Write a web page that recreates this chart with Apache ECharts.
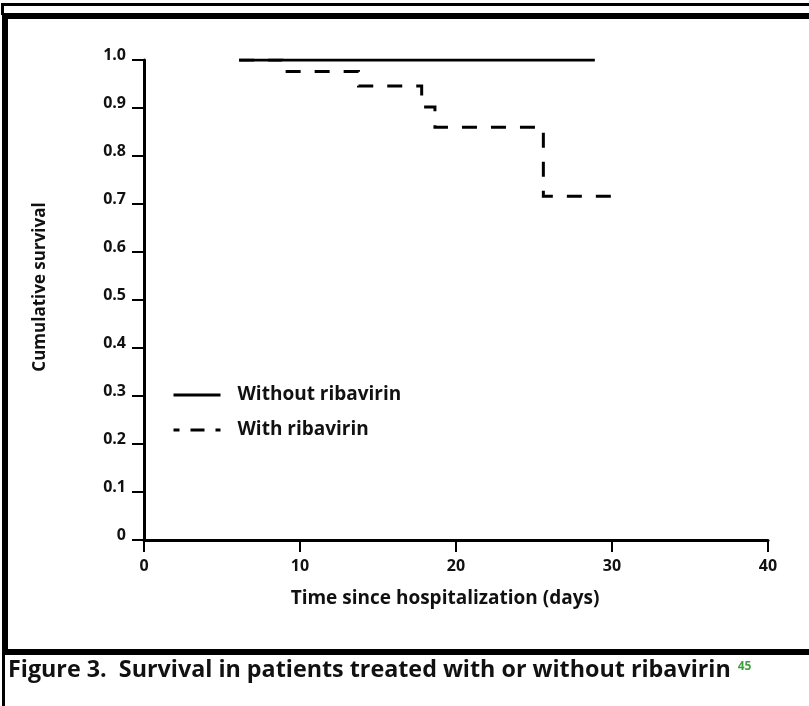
<!DOCTYPE html>
<html>
<head>
<meta charset="utf-8">
<script src="https://cdn.jsdelivr.net/npm/echarts@6/dist/echarts.min.js"></script>
<style>
html,body{margin:0;padding:0;background:#fff;}
#chart{width:809px;height:706px;}
</style>
</head>
<body>
<div id="chart"></div>
<script>
// ---- data ----
const seriesNames = ['Without ribavirin', 'With ribavirin'];
const withoutDays = [6.1, 28.9];
const withoutSurvival = [1.0, 1.0];
const withDays = [6.1, 8.85, 13.75, 17.8, 18.65, 25.6, 30.6];
const withSurvival = [1.0, 0.976, 0.946, 0.902, 0.86, 0.716, 0.716];
const xTicks = [0, 10, 20, 30, 40];
const yTickLabels = ['0', '0.1', '0.2', '0.3', '0.4', '0.5', '0.6', '0.7', '0.8', '0.9', '1.0'];
const xTitle = 'Time since hospitalization (days)';
const yTitle = 'Cumulative survival';
const caption = 'Figure 3.  Survival in patients treated with or without ribavirin';
const captionRef = '45';

const FONT = '"Open Sans", "DejaVu Sans", sans-serif';
const pair = (xs, ys) => xs.map((x, i) => [x, ys[i]]);

const chart = echarts.init(document.getElementById('chart'), null, {renderer: 'canvas'});
chart.setOption({
  animation: false,
  backgroundColor: '#fff',
  grid: {left: 144, right: 41, top: 60, bottom: 166, containLabel: false},
  title: {
    text: '{a|' + caption + '}{b|' + captionRef + '}',
    left: 8, top: 657, padding: 0,
    textStyle: {
      rich: {
        a: {fontFamily: FONT, fontWeight: 'bold', fontSize: 23.3, color: '#111', lineHeight: 26},
        b: {fontFamily: FONT, fontSize: 12, lineHeight: 12, color: '#3f9f3f', verticalAlign: 'top', padding: [4, 0, 0, 7]}
      }
    }
  },
  legend: {
    orient: 'vertical', left: 172, top: 385, padding: 0,
    itemWidth: 47, itemHeight: 20, itemGap: 15,
    itemStyle: {opacity: 0},
    textStyle: {fontFamily: FONT, fontWeight: 'bold', fontSize: 19, lineHeight: 20, color: '#111', padding: [0, 0, 0, 12]},
    data: [
      {name: seriesNames[0], itemStyle: {opacity: 0}, lineStyle: {width: 3, color: '#000', type: 'solid'}},
      {name: seriesNames[1], itemStyle: {opacity: 0}, lineStyle: {width: 3, color: '#000', type: [14, 11], dashOffset: 8}}
    ]
  },
  xAxis: {
    type: 'value', min: 0, max: 40, interval: 10,
    name: xTitle, nameLocation: 'middle', nameGap: 49,
    nameTextStyle: {fontFamily: FONT, fontWeight: 'bold', fontSize: 19, color: '#111', padding: [0, 22, 0, 0]},
    axisLine: {show: true, lineStyle: {color: '#000', width: 3}},
    axisTick: {show: true, length: 12, lineStyle: {color: '#000', width: 2}},
    axisLabel: {
      margin: 18, fontFamily: FONT, fontWeight: 'bold', fontSize: 16, color: '#111',
      showMinLabel: true, showMaxLabel: true,
      formatter: v => { const i = xTicks.indexOf(v); return i >= 0 ? String(xTicks[i]) : ''; }
    },
    splitLine: {show: false}
  },
  yAxis: {
    type: 'value', min: 0, max: 1, interval: 0.1,
    name: yTitle, nameLocation: 'middle', nameGap: 95,
    nameTextStyle: {fontFamily: FONT, fontWeight: 'bold', fontSize: 17, color: '#111', padding: [0, 0, 0, 26]},
    axisLine: {show: true, lineStyle: {color: '#000', width: 3}},
    axisTick: {show: true, length: 12, lineStyle: {color: '#000', width: 2}},
    axisLabel: {
      margin: 18, fontFamily: FONT, fontWeight: 'bold', fontSize: 16, color: '#111',
      verticalAlign: 'bottom', lineHeight: 10,
      formatter: v => yTickLabels[Math.round(v * 10)]
    },
    splitLine: {show: false}
  },
  series: [
    {
      name: seriesNames[0], type: 'line', step: 'end', symbol: 'none',
      data: pair(withoutDays, withoutSurvival),
      lineStyle: {color: '#000', width: 3, type: 'solid', cap: 'butt', join: 'miter'},
      itemStyle: {color: '#000'}, z: 3
    },
    {
      name: seriesNames[1], type: 'line', step: 'end', symbol: 'none',
      data: pair(withDays, withSurvival),
      lineStyle: {color: '#000', width: 3, type: [15, 14], cap: 'butt', join: 'miter'},
      itemStyle: {color: '#000'}, z: 2
    }
  ],
  graphic: [
    {type: 'rect', shape: {x: 1, y: 3, width: 808, height: 3}, style: {fill: '#000'}, silent: true},
    {type: 'rect', shape: {x: 1, y: 3, width: 3, height: 12}, style: {fill: '#000'}, silent: true},
    {type: 'rect', shape: {x: 2, y: 13, width: 807, height: 6}, style: {fill: '#000'}, silent: true},
    {type: 'rect', shape: {x: 2, y: 13, width: 6, height: 642}, style: {fill: '#000'}, silent: true},
    {type: 'rect', shape: {x: 2, y: 649, width: 807, height: 6}, style: {fill: '#000'}, silent: true},
    {type: 'rect', shape: {x: 2, y: 649, width: 3, height: 57}, style: {fill: '#000'}, silent: true}
  ]
});
</script>
</body>
</html>
